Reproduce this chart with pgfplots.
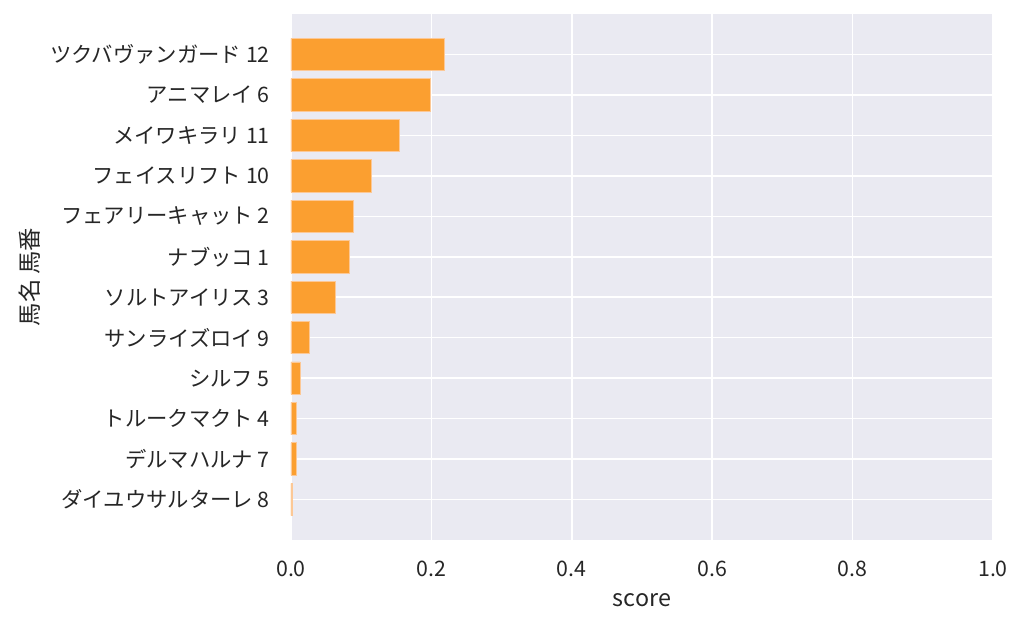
\documentclass[border=0pt]{standalone}
\usepackage{fontspec}
\setmainfont{Noto Sans CJK JP}
\usepackage{pgfplots}
\pgfplotsset{compat=1.18}
\definecolor{bg}{RGB}{234,234,242}
\definecolor{barc}{RGB}{251,159,48}
\definecolor{bare}{RGB}{252,200,150}
\definecolor{txt}{RGB}{38,38,38}
\begin{document}
\begin{tikzpicture}
\useasboundingbox (-218.25pt,-65.25pt) rectangle (549.75pt,405pt);
\begin{axis}[
  at={(0,0)}, anchor=south west,
  scale only axis, width=526.5pt, height=394.5pt,
  xmin=0, xmax=1, ymin=-1, ymax=12,
  y dir=reverse,
  axis background/.style={fill=bg},
  axis line style={draw=none},
  major tick length=0pt,
  grid=major, grid style={white, line width=1.2pt},
  xtick={0,0.2,0.4,0.6,0.8,1.0},
  xticklabels={0.0,0.2,0.4,0.6,0.8,1.0},
  ytick={0,...,11},
  yticklabels={ツクバヴァンガード 12,アニマレイ 6,メイワキラリ 11,フェイスリフト 10,フェアリーキャット 2,ナブッコ 1,ソルトアイリス 3,サンライズロイ 9,シルフ 5,トルークマクト 4,デルマハルナ 7,ダイユウサルターレ 8},
  font=\fontsize{16pt}{18pt}\selectfont,
  tick label style={text=txt},
  label style={text=txt, font=\fontsize{17.5pt}{20pt}\selectfont},
  xticklabel style={anchor=center, yshift=-21.75pt, inner sep=0pt},
  yticklabel style={anchor=east, xshift=-15.75pt, inner sep=0pt},
  xlabel={score}, ylabel={馬名 馬番},
  xlabel style={at={(axis description cs:0.5,-0.114)}, anchor=center},
  ylabel style={at={(axis description cs:-0.372,0.5)}, anchor=center},
  xbar, bar width=0.8,
]
\addplot[fill=barc, draw=bare, line width=0.6pt] coordinates {
(0.219,0) (0.198,1) (0.154,2) (0.115,3) (0.089,4) (0.083,5) (0.063,6) (0.026,7) (0.013,8) (0.0076,9) (0.0076,10) (0.002,11)
};
\end{axis}
\end{tikzpicture}
\end{document}
